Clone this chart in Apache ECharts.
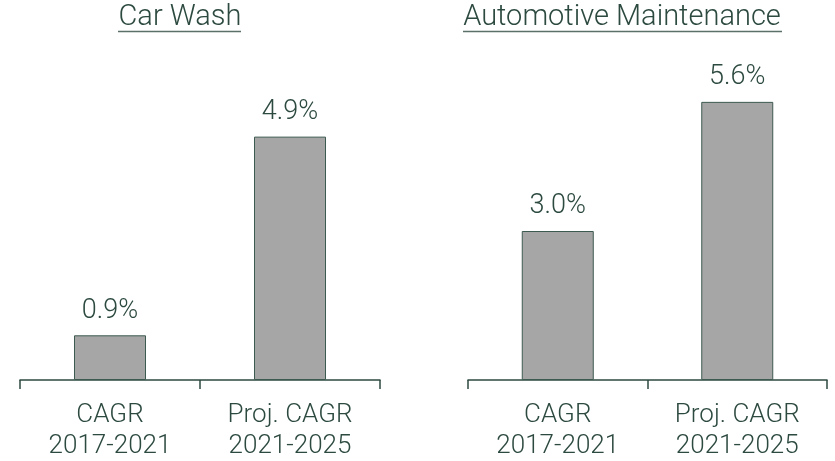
<!DOCTYPE html>
<html>
<head>
<meta charset="utf-8">
<script src="https://cdn.jsdelivr.net/npm/echarts@6/dist/echarts.min.js"></script>
<style>
  html, body { margin: 0; padding: 0; background: #fff; }
  #chart { width: 835px; height: 461px; }
</style>
</head>
<body>
<div id="chart"></div>
<script>
// data
var categories = ["CAGR\n2017-2021", "Proj. CAGR\n2021-2025"];
var carWash = [0.9, 4.9];
var autoMaint = [3.0, 5.6];
var panelTitles = ["Car Wash", "Automotive Maintenance"];

var ink = "#2d4a40";
var fontFam = "Roboto, 'Liberation Sans', sans-serif";

function xAxisFor(idx) {
	return {
		type: "category",
		gridIndex: idx,
		data: categories,
		boundaryGap: true,
		axisLine: { lineStyle: { color: ink, width: 1.5 } },
		axisTick: { show: true, length: 9, lineStyle: { color: ink, width: 1.5 } },
		axisLabel: {
			color: ink, fontFamily: fontFam, fontWeight: 300,
			fontSize: 26, lineHeight: 31, margin: 20
		}
	};
}

function yAxisFor(idx) {
	return {
		type: "value", gridIndex: idx, min: 0, max: 6,
		show: false, splitLine: { show: false }
	};
}

function seriesFor(idx, vals) {
	return {
		type: "bar",
		xAxisIndex: idx,
		yAxisIndex: idx,
		data: vals,
		barWidth: 72,
		itemStyle: { color: "#a6a6a6", borderColor: "#3d5a50", borderWidth: 1 },
		label: {
			show: true, position: "top", distance: 11,
			color: ink, fontFamily: fontFam, fontWeight: 300, fontSize: 27,
			formatter: function(p) { return p.value.toFixed(1) + "%"; }
		}
	};
}

var chart = echarts.init(document.getElementById("chart"), null, { renderer: "canvas" });
chart.setOption({
	animation: false,
	grid: [
		{ left: 20, width: 360, top: 82, bottom: 81, containLabel: false, outerBoundsMode: "none" },
		{ left: 468, width: 359, top: 82, bottom: 81, containLabel: false, outerBoundsMode: "none" }
	],
	xAxis: [xAxisFor(0), xAxisFor(1)],
	yAxis: [yAxisFor(0), yAxisFor(1)],
	series: [seriesFor(0, carWash), seriesFor(1, autoMaint)],
	graphic: [
		{ type: "text", x: 180, y: 3, style: { text: panelTitles[0], textAlign: "center", fill: ink, font: "300 29px " + fontFam } },
		{ type: "line", shape: { x1: 118, y1: 31.5, x2: 241, y2: 31.5 }, style: { stroke: "#5a7068", lineWidth: 1.5 } },
		{ type: "text", x: 622, y: 3, style: { text: panelTitles[1], textAlign: "center", fill: ink, font: "300 29px " + fontFam } },
		{ type: "line", shape: { x1: 463, y1: 31.5, x2: 782, y2: 31.5 }, style: { stroke: "#5a7068", lineWidth: 1.5 } }
	]
});
</script>
</body>
</html>
